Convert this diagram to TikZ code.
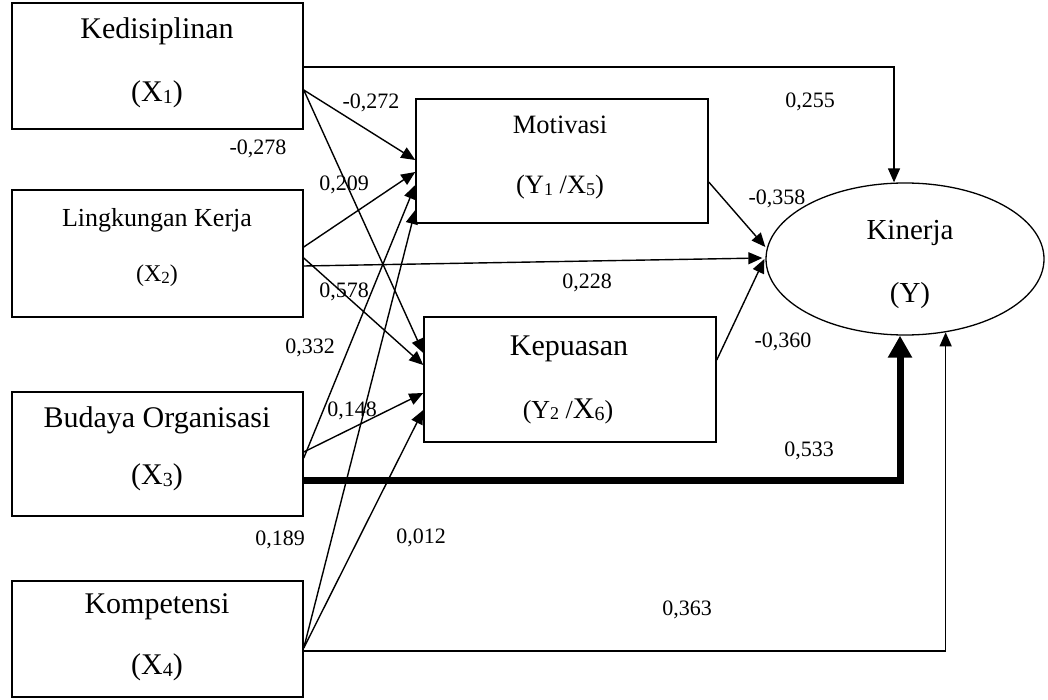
\documentclass[tikz,border=0pt]{standalone}
\usepackage{fontspec}
\setmainfont{Liberation Serif}
\usetikzlibrary{arrows.meta,shapes.geometric}
% small index digits that sit low beside a letter
\newcommand{\ix}[2]{{\fontsize{#1}{#1}\selectfont\raisebox{-0.1em}{#2}}}
\newcommand{\fs}[1]{\fontsize{#1}{#1}\selectfont}

\begin{document}
\begin{tikzpicture}[x=1pt,y=-1pt,
  varbox/.style={draw,line width=1.5pt,inner sep=0pt,minimum width=291pt},
  txt/.style={inner sep=0pt,anchor=base},
  coef/.style={inner sep=0pt,anchor=base,font=\fs{22}},
  arr/.style={line width=1.4pt,-{Triangle[length=14pt,width=12pt]}},
  bigarr/.style={line width=7pt,line join=miter,-{Triangle[length=22pt,width=23pt]}}]

\useasboundingbox (0,0) rectangle (1048,700);

% exogenous variables
\node[varbox,minimum height=126pt] (x1) at (157.5,66) {};
\node[varbox,minimum height=127pt] (x2) at (157.5,253.5) {};
\node[varbox,minimum height=124pt] (x3) at (157.5,454) {};
\node[varbox,minimum height=116pt] (x4) at (157.5,639) {};

% intervening variables
\node[varbox,minimum width=292pt,minimum height=124pt] (mot) at (562,161) {};
\node[varbox,minimum width=292pt,minimum height=125pt] (kep) at (570,379.5) {};

% dependent variable
\node[draw,line width=1.3pt,ellipse,inner sep=0pt,minimum width=278pt,minimum height=152pt] (kin) at (905,259) {};

% box texts
\node[txt,font=\fs{30}] (t1a) at (157,39) {Kedisiplinan};
\node[txt,font=\fs{30}] (t1b) at (157,102) {(X\ix{20}{1})};
\node[txt,font=\fs{26}] (t2a) at (157,227) {Lingkungan Kerja};
\node[txt,font=\fs{24}] (t2b) at (157,282) {(X\ix{17}{2})};
\node[txt,font=\fs{30}] (t3a) at (157,427) {Budaya Organisasi};
\node[txt,font=\fs{30}] (t3b) at (157,484) {(X\ix{20}{3})};
\node[txt,font=\fs{30}] (t4a) at (157,613) {Kompetensi};
\node[txt,font=\fs{30}] (t4b) at (157,674) {(X\ix{20}{4})};
\node[txt,font=\fs{26.5}] (tma) at (560,134) {Motivasi};
\node[txt,font=\fs{26.5}] (tmb) at (560,194) {(Y\ix{18}{1} /X\ix{18}{5})};
\node[txt,font=\fs{30}] (tka) at (569,355) {Kepuasan};
\node[txt] (tkb) at (568,418) {{\fs{26}(Y\ix{18}{2} /}{\fs{30}X\ix{20}{6}}{\fs{26})}};
\node[txt,font=\fs{29}] (tya) at (910,240) {Kinerja};
\node[txt,font=\fs{29}] (tyb) at (910,302) {(Y)};

% direct paths to Kinerja
\draw[bigarr] ([yshift=-26pt]x3.east) -| ([xshift=-5pt]kin.south);
\draw[arr] ([yshift=-1pt]x1.east) -| ([xshift=-11pt]kin.north);
\draw[arr] ([yshift=-12pt]x4.east) -| (kin.-61);
\draw[arr] ([yshift=-12.5pt]x2.east) -- ([xshift=-3pt,yshift=1pt]kin.west);

% paths to Motivasi
\draw[arr] ([yshift=-24pt]x1.east) -- ([yshift=1pt]mot.west);
\draw[arr] ([yshift=6.5pt]x2.east) -- ([yshift=-11pt]mot.west);
\draw[arr] ([yshift=-4pt]x3.east) -- ([yshift=-24pt]mot.west);
\draw[arr] ([yshift=-9pt]x4.east) -- ([yshift=-49pt]mot.west);

% paths to Kepuasan
\draw[arr] ([yshift=-24pt]x1.east) -- ([yshift=26.5pt]kep.west);
\draw[arr] ([yshift=-4.5pt]x2.east) -- ([yshift=14.5pt]kep.west);
\draw[arr] ([yshift=2pt]x3.east) -- ([yshift=-13.5pt]kep.west);
\draw[arr] ([yshift=-9pt]x4.east) -- ([yshift=-30.5pt]kep.west);

% intervening paths to Kinerja
\draw[arr] ([yshift=-21pt]mot.east) -- ([yshift=12pt]kin.west);
\draw[arr] ([yshift=19.5pt]kep.east) -- ([xshift=-1pt]kin.west);

% path coefficients
\node[coef] (c1) at (371,109) {-0,272};
\node[coef] (c2) at (810,108) {0,255};
\node[coef] (c3) at (258,155) {-0,278};
\node[coef] (c4) at (344,191) {0,209};
\node[coef] (c5) at (777,205) {-0,358};
\node[coef] (c6) at (587,288) {0,228};
\node[coef] (c7) at (344,298) {0,578};
\node[coef] (c8) at (783,347) {-0,360};
\node[coef] (c9) at (310,353) {0,332};
\node[coef] (c10) at (352,416) {0,148};
\node[coef] (c11) at (809,456) {0,533};
\node[coef] (c12) at (280,545) {0,189};
\node[coef] (c13) at (421,543) {0,012};
\node[coef] (c14) at (687,615) {0,363};
\end{tikzpicture}
\end{document}
